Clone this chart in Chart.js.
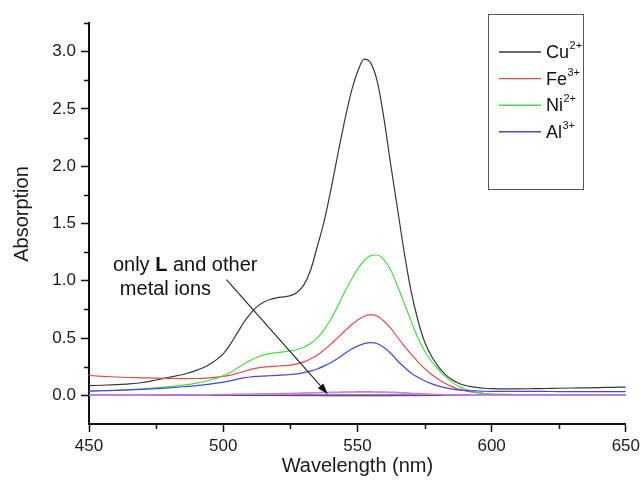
<!DOCTYPE html>
<html>
<head>
<meta charset="utf-8">
<script src="https://cdn.jsdelivr.net/npm/chart.js@4.4.1/dist/chart.umd.min.js"></script>
<style>
  html, body { margin: 0; padding: 0; background: #ffffff; }
  #wrap { width: 644px; height: 488px; position: relative; }
</style>
</head>
<body>
<div id="wrap"><canvas id="spectra"></canvas></div>
<script>
// Wavelength grid (nm): 5 nm steps at the ends, 2.5 nm steps across the band
const wavelengths = [450,455,460,465,470,475,480,485,490,495,
  500,502.5,505,507.5,510,512.5,515,517.5,520,522.5,
  525,527.5,530,532.5,535,537.5,540,542.5,545,547.5,
  550,552.5,555,557.5,560,562.5,565,567.5,570,572.5,
  575,577.5,580,582.5,585,587.5,590,592.5,595,597.5,600,
  605,610,615,620,625,630,635,640,645,650];

// Absorption of L with each responsive metal ion
const cuAbs = [0.085,0.088,0.093,0.100,0.112,0.134,0.158,0.182,0.218,0.272,
  0.362,0.440,0.535,0.630,0.710,0.772,0.813,0.837,0.851,0.860,
  0.870,0.898,0.962,1.090,1.295,1.510,1.780,2.080,2.370,2.630,
  2.820,2.935,2.900,2.730,2.400,2.000,1.620,1.240,0.910,0.660,
  0.470,0.345,0.255,0.188,0.140,0.108,0.088,0.076,0.068,0.062,0.059,
  0.057,0.057,0.058,0.060,0.062,0.064,0.066,0.068,0.070,0.072];
const feAbs = [0.174,0.166,0.160,0.156,0.153,0.150,0.148,0.146,0.147,0.153,
  0.165,0.175,0.190,0.207,0.224,0.238,0.246,0.251,0.255,0.259,
  0.264,0.275,0.292,0.318,0.350,0.395,0.445,0.500,0.555,0.610,
  0.656,0.690,0.705,0.690,0.645,0.585,0.505,0.430,0.360,0.295,
  0.235,0.185,0.143,0.108,0.078,0.055,0.040,0.030,0.022,0.016,0.012,
  0.009,0.007,0.006,0.006,0.005,0.005,0.005,0.005,0.005,0.005];
const niAbs = [0.037,0.040,0.044,0.050,0.057,0.066,0.077,0.090,0.107,0.132,
  0.170,0.198,0.235,0.270,0.303,0.331,0.351,0.364,0.373,0.380,
  0.388,0.400,0.420,0.452,0.500,0.570,0.660,0.770,0.890,1.000,
  1.100,1.175,1.220,1.225,1.180,1.090,0.950,0.800,0.650,0.505,
  0.390,0.300,0.230,0.170,0.120,0.082,0.055,0.037,0.024,0.016,0.011,
  0.008,0.006,0.005,0.005,0.005,0.005,0.005,0.005,0.005,0.005];
const alAbs = [0.037,0.040,0.043,0.047,0.052,0.059,0.066,0.075,0.085,0.098,
  0.115,0.126,0.140,0.152,0.160,0.165,0.168,0.171,0.174,0.178,
  0.182,0.188,0.198,0.212,0.230,0.255,0.285,0.320,0.360,0.400,
  0.430,0.452,0.460,0.450,0.415,0.365,0.300,0.245,0.195,0.158,
  0.128,0.102,0.083,0.068,0.057,0.048,0.043,0.040,0.038,0.036,0.035,
  0.035,0.034,0.034,0.034,0.033,0.033,0.033,0.033,0.032,0.032];

// L alone and L with the other (non-responsive) metal ions
const ligandAbs = [0.004,0.004,0.004,0.004,0.004,0.005,0.005,0.005,0.006,0.007,
  0.008,0.009,0.010,0.011,0.012,0.013,0.014,0.015,0.016,0.017,
  0.018,0.020,0.021,0.023,0.025,0.026,0.028,0.029,0.030,0.031,
  0.032,0.032,0.032,0.031,0.030,0.028,0.026,0.023,0.020,0.017,
  0.014,0.011,0.009,0.007,0.006,0.005,0.004,0.004,0.003,0.003,0.003,
  0.003,0.003,0.003,0.003,0.003,0.003,0.003,0.003,0.003,0.003];
const otherIonAbsA = [0.002,0.002,0.002,0.002,0.002,0.003,0.003,0.003,0.004,0.005,
  0.006,0.007,0.008,0.009,0.010,0.010,0.011,0.012,0.013,0.014,
  0.015,0.016,0.017,0.018,0.020,0.021,0.022,0.023,0.024,0.025,
  0.025,0.025,0.025,0.024,0.023,0.022,0.020,0.018,0.016,0.013,
  0.011,0.009,0.007,0.005,0.004,0.003,0.003,0.002,0.002,0.002,0.002,
  0.002,0.002,0.002,0.002,0.002,0.002,0.002,0.002,0.002,0.002];
const otherIonAbsB = [0.002,0.002,0.002,0.002,0.002,0.002,0.002,0.002,0.002,0.002,
  0.002,0.002,0.002,0.002,0.002,0.002,0.002,0.002,0.002,0.002,
  0.002,0.002,0.002,0.002,0.002,0.002,0.002,0.002,0.002,0.002,
  0.002,0.002,0.002,0.002,0.002,0.002,0.002,0.002,0.002,0.002,
  0.002,0.002,0.002,0.002,0.002,0.002,0.002,0.002,0.002,0.002,0.002,
  0.002,0.002,0.002,0.002,0.002,0.002,0.002,0.002,0.002,0.002];
const otherIonAbsC = [0.000,0.000,0.000,0.000,0.000,0.000,0.000,0.000,0.000,0.000,
  -0.001,-0.001,-0.001,-0.001,-0.001,-0.002,-0.002,-0.002,-0.002,-0.002,
  -0.003,-0.003,-0.003,-0.003,-0.003,-0.004,-0.004,-0.004,-0.004,-0.004,
  -0.004,-0.004,-0.004,-0.004,-0.004,-0.004,-0.003,-0.003,-0.003,-0.003,
  -0.002,-0.002,-0.002,-0.001,-0.001,-0.001,0.000,0.000,0.000,0.000,0.000,
  0.000,0.000,0.000,0.000,0.000,0.000,0.000,0.000,0.000,0.000];

// Legend entries: element symbol and charge (charge drawn as superscript)
const ionSymbols = ['Cu', 'Fe', 'Ni', 'Al'];
const ionCharges = ['2+', '3+', '2+', '3+'];
const ionColors  = ['#383838', '#e04a4a', '#48dc48', '#4646dc'];

// Axis ticks
const xMajorTicks = [450, 500, 550, 600, 650];
const xMinorTicks = [475, 525, 575, 625];
const yMajorTicks = [0.0, 0.5, 1.0, 1.5, 2.0, 2.5, 3.0];
const yMinorTicks = [0.25, 0.75, 1.25, 1.75, 2.25, 2.75, 3.25];

const FONT = "'Liberation Sans', Arial, Helvetica, sans-serif";
const toPoints = arr => wavelengths.map((w, i) => ({ x: w, y: arr[i] }));

const datasets = [
  { label: 'L', data: toPoints(ligandAbs), borderColor: '#e070e0' },
  { label: 'ion A', data: toPoints(otherIonAbsA), borderColor: '#8ec4ee' },
  { label: 'ion C', data: toPoints(otherIonAbsC), borderColor: '#5a4a5a', borderWidth: 1 },
  { label: 'ion B', data: toPoints(otherIonAbsB), borderColor: '#9a46b6', borderWidth: 1.8 },
  { label: 'Al3+', data: toPoints(alAbs), borderColor: ionColors[3] },
  { label: 'Ni2+', data: toPoints(niAbs), borderColor: ionColors[2] },
  { label: 'Fe3+', data: toPoints(feAbs), borderColor: ionColors[1] },
  { label: 'Cu2+', data: toPoints(cuAbs), borderColor: ionColors[0] }
];

// Minor ticks, y title, framed legend with superscript charges, and the arrow note
const overlay = {
  id: 'overlay',
  afterDraw(chart) {
    const { ctx, chartArea, scales: { x, y } } = chart;
    ctx.save();

    // minor tick marks
    ctx.strokeStyle = '#111';
    ctx.lineWidth = 1.5;
    ctx.beginPath();
    xMinorTicks.forEach(v => {
      const px = Math.round(x.getPixelForValue(v)) + 0.5;
      ctx.moveTo(px, chartArea.bottom);
      ctx.lineTo(px, chartArea.bottom + 5);
    });
    yMinorTicks.forEach(v => {
      const py = Math.round(y.getPixelForValue(v)) + 0.5;
      ctx.moveTo(chartArea.left, py);
      ctx.lineTo(chartArea.left - 5, py);
    });
    ctx.stroke();

    // y axis title
    ctx.save();
    ctx.translate(22, 214);
    ctx.rotate(-Math.PI / 2);
    ctx.fillStyle = '#1a1a1a';
    ctx.font = `20px ${FONT}`;
    ctx.textAlign = 'center';
    ctx.textBaseline = 'middle';
    ctx.fillText('Absorption', 0, 0);
    ctx.restore();

    // legend frame
    ctx.strokeStyle = '#555';
    ctx.lineWidth = 1;
    ctx.strokeRect(488.5, 14.5, 95, 175);
    ionSymbols.forEach((sym, i) => {
      const cy = 52 + i * 26.6;
      ctx.strokeStyle = ionColors[i];
      ctx.lineWidth = 1.4;
      ctx.beginPath();
      ctx.moveTo(499, cy);
      ctx.lineTo(541, cy);
      ctx.stroke();
      ctx.fillStyle = '#111';
      ctx.textBaseline = 'middle';
      ctx.textAlign = 'left';
      ctx.font = `18px ${FONT}`;
      ctx.fillText(sym, 546, cy + 1);
      const w = ctx.measureText(sym).width;
      ctx.font = `11px ${FONT}`;
      ctx.fillText(ionCharges[i], 546 + w + 0.5, cy - 6);
    });

    // annotation text
    ctx.fillStyle = '#111';
    ctx.textBaseline = 'alphabetic';
    ctx.textAlign = 'left';
    let tx = x.getPixelForValue(458.9);
    const ty1 = y.getPixelForValue(1.089);
    const parts = [['only ', 'normal'], ['L', 'bold'], [' and other', 'normal']];
    parts.forEach(([t, weight]) => {
      ctx.font = `${weight} 20px ${FONT}`;
      ctx.fillText(t, tx, ty1);
      tx += ctx.measureText(t).width;
    });
    ctx.font = `20px ${FONT}`;
    ctx.fillText('metal ions', x.getPixelForValue(461.5), y.getPixelForValue(0.88));

    // arrow toward the near-zero curves
    const x0 = x.getPixelForValue(501.2), y0 = y.getPixelForValue(1.01);
    const x1 = x.getPixelForValue(539.0), y1 = y.getPixelForValue(0.01);
    const ang = Math.atan2(y1 - y0, x1 - x0);
    const head = 11, half = 3.6;
    const bx = x1 - head * Math.cos(ang), by = y1 - head * Math.sin(ang);
    ctx.strokeStyle = '#222';
    ctx.lineWidth = 1.1;
    ctx.beginPath();
    ctx.moveTo(x0, y0);
    ctx.lineTo(bx, by);
    ctx.stroke();
    ctx.fillStyle = '#111';
    ctx.beginPath();
    ctx.moveTo(x1, y1);
    ctx.lineTo(bx + half * Math.sin(ang), by - half * Math.cos(ang));
    ctx.lineTo(bx - half * Math.sin(ang), by + half * Math.cos(ang));
    ctx.closePath();
    ctx.fill();

    ctx.restore();
  }
};

new Chart(document.getElementById('spectra'), {
  type: 'line',
  data: { datasets },
  options: {
    responsive: true,
    maintainAspectRatio: false,
    animation: false,
    layout: { padding: { top: 23, right: 16, left: 0, bottom: 0 } },
    plugins: { legend: { display: false }, tooltip: { enabled: false } },
    elements: {
      point: { radius: 0 },
      line: { borderWidth: 1.2, cubicInterpolationMode: 'monotone', fill: false }
    },
    scales: {
      x: {
        type: 'linear',
        min: 450,
        max: 650,
        afterBuildTicks(scale) { scale.ticks = xMajorTicks.map(v => ({ value: v })); },
        ticks: {
          callback: v => String(v),
          font: { size: 17, family: FONT },
          color: '#1a1a1a',
          padding: 4,
          maxRotation: 0,
          autoSkip: false
        },
        grid: { display: true, drawOnChartArea: false, drawTicks: true, tickLength: 8, tickColor: '#111', tickWidth: 1.5 },
        border: { display: true, color: '#111', width: 2 },
        title: { display: true, text: 'Wavelength (nm)', font: { size: 20, family: FONT }, color: '#1a1a1a', padding: { top: 10, bottom: 10 } },
        afterFit(scale) { scale.height = 64; }
      },
      y: {
        type: 'linear',
        min: -0.25,
        max: 3.25,
        afterBuildTicks(scale) { scale.ticks = yMajorTicks.map(v => ({ value: v })); },
        ticks: {
          callback: v => Number(v).toFixed(1),
          font: { size: 17, family: FONT },
          color: '#1a1a1a',
          padding: 5,
          autoSkip: false
        },
        grid: { display: true, drawOnChartArea: false, drawTicks: true, tickLength: 8, tickColor: '#111', tickWidth: 1.5 },
        border: { display: true, color: '#111', width: 2 },
        title: { display: false },
        afterFit(scale) { scale.width = 89; }
      }
    }
  },
  plugins: [overlay]
});
</script>
</body>
</html>
